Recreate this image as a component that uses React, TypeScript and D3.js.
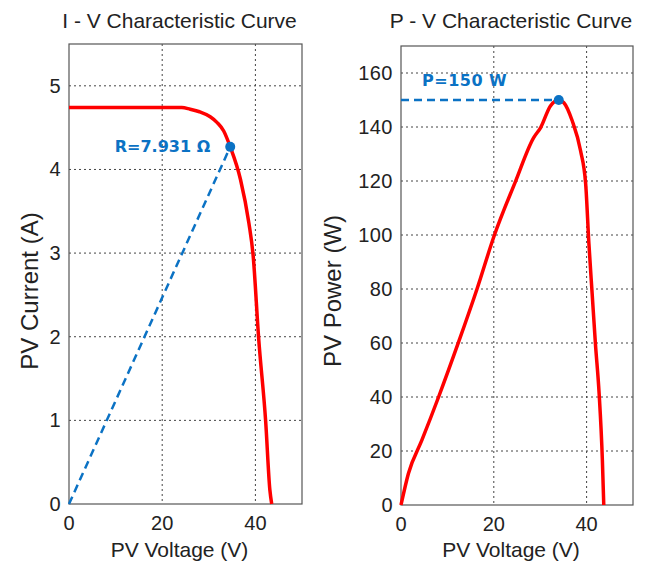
import * as d3 from "d3";

// ---- data ----
const ivVoltage = [0, 24.2, 26, 28, 30.3, 31.8, 33.2, 34.6, 36.8, 38.6, 39.5, 40.7, 42.2, 43.1, 43.5];
const ivCurrent = [4.74, 4.74, 4.72, 4.69, 4.63, 4.56, 4.46, 4.27, 3.88, 3.36, 2.98, 1.98, 0.99, 0.17, 0];

const pvVoltage = [0, 1.6, 4.5, 8.1, 12.4, 16.4, 20.1, 24.6, 28.6, 30.1, 32.2, 34, 35.1, 36.9, 38.7, 39.8, 40.5, 41.2, 41.9, 42.7, 43.4, 43.7];
const pvPower = [0, 11.7, 24, 40, 60.3, 80.1, 99.8, 119.5, 136.1, 139.8, 147.8, 150, 149, 142.3, 131.2, 118.9, 96.7, 78.2, 59.8, 41.3, 16.6, 0];

const xTicks = [0, 20, 40];
const iTicks = [0, 1, 2, 3, 4, 5];
const pTicks = [0, 20, 40, 60, 80, 100, 120, 140, 160];

const mppIV = { v: 34.6, i: 4.27 };
const mppPV = { v: 34, p: 150 };

const RED = "#ff0000";
const BLUE = "#0b72c4";
const FONT = "Liberation Sans, Arial, sans-serif";

type PanelProps = {
  x0: number;
  x1: number;
  y0: number;
  y1: number;
  yMax: number;
  yTicks: number[];
  xs: number[];
  ys: number[];
  title: string;
  yLabel: string;
  yLabelX: number;
  children?: (x: d3.ScaleLinear<number, number>, y: d3.ScaleLinear<number, number>) => any;
};

function Panel({ x0, x1, y0, y1, yMax, yTicks, xs, ys, title, yLabel, yLabelX, children }: PanelProps) {
  const x = d3.scaleLinear().domain([0, 50]).range([x0, x1]);
  const y = d3.scaleLinear().domain([0, yMax]).range([y1, y0]);
  const line = d3
    .line<number>()
    .x((d) => x(d))
    .y((_, k) => y(ys[k]))
    .curve(d3.curveMonotoneX);
  const cx = (x0 + x1) / 2 - 6;

  return (
    <g>
      {/* grid */}
      {xTicks.filter((t) => t > 0).map((t) => (
        <line key={"gx" + t} x1={x(t)} x2={x(t)} y1={y0} y2={y1} stroke="#444" strokeWidth={1} strokeDasharray="2,3" />
      ))}
      {yTicks.filter((t) => t > 0).map((t) => (
        <line key={"gy" + t} x1={x0} x2={x1} y1={y(t)} y2={y(t)} stroke="#444" strokeWidth={1} strokeDasharray="2,3" />
      ))}
      <rect x={x0} y={y0} width={x1 - x0} height={y1 - y0} fill="none" stroke="#555" strokeWidth={1.2} />

      {/* tick labels */}
      {xTicks.map((t) => (
        <text key={"tx" + t} x={x(t)} y={y1 + 26} textAnchor="middle" fontSize={20} fontFamily={FONT} fill="#222">
          {t}
        </text>
      ))}
      {yTicks.map((t) => (
        <text key={"ty" + t} x={x0 - 8} y={y(t) + 7} textAnchor="end" fontSize={20} fontFamily={FONT} fill="#222" letterSpacing={0.5}>
          {t}
        </text>
      ))}

      {/* titles */}
      <text x={cx} y={28} textAnchor="middle" fontSize={21} fontFamily={FONT} fill="#222">
        {title}
      </text>
      <text x={cx} y={557} textAnchor="middle" fontSize={21} fontFamily={FONT} fill="#222">
        PV Voltage (V)
      </text>
      <text
        transform={`translate(${yLabelX},291) rotate(-90)`}
        textAnchor="middle"
        fontSize={24}
        fontFamily={FONT}
        fill="#222"
      >
        {yLabel}
      </text>

      {/* curve */}
      <path d={line(xs) ?? ""} fill="none" stroke={RED} strokeWidth={3.5} strokeLinejoin="round" />
      {children && children(x, y)}
    </g>
  );
}

export default function App() {
  return (
    <svg width={649} height={566} style={{ position: "absolute", left: 0, top: 0, background: "#fff" }}>
      <Panel
        x0={69}
        x1={302}
        y0={44}
        y1={504}
        yMax={5.5}
        yTicks={iTicks}
        xs={ivVoltage}
        ys={ivCurrent}
        title="I - V Characteristic Curve"
        yLabel="PV Current (A)"
        yLabelX={38}
      >
        {(x, y) => (
          <g>
            <line x1={x(0)} y1={y(0)} x2={x(mppIV.v)} y2={y(mppIV.i)} stroke={BLUE} strokeWidth={2.5} strokeDasharray="8,5" />
            <circle cx={x(mppIV.v)} cy={y(mppIV.i)} r={5} fill={BLUE} />
            <text
              x={x(mppIV.v) - 20}
              y={y(mppIV.i) + 5}
              textAnchor="end"
              fontSize={16}
              fontWeight="bold"
              fontFamily="DejaVu Sans, Verdana, sans-serif"
              fill={BLUE}
            >
              {"R=7.931 \u03A9"}
            </text>
          </g>
        )}
      </Panel>
      <Panel
        x0={401}
        x1={633}
        y0={46}
        y1={505}
        yMax={170}
        yTicks={pTicks}
        xs={pvVoltage}
        ys={pvPower}
        title="P - V Characteristic Curve"
        yLabel="PV Power (W)"
        yLabelX={341}
      >
        {(x, y) => (
          <g>
            <line x1={x(0)} y1={y(mppPV.p)} x2={x(mppPV.v)} y2={y(mppPV.p)} stroke={BLUE} strokeWidth={2.5} strokeDasharray="8,5" />
            <circle cx={x(mppPV.v)} cy={y(mppPV.p)} r={5} fill={BLUE} />
            <text
              x={x(0) + 21}
              y={y(mppPV.p) - 14}
              fontSize={16}
              fontWeight="bold"
              fontFamily="DejaVu Sans, Verdana, sans-serif"
              fill={BLUE}
              letterSpacing={0.5}
            >
              P=150 W
            </text>
          </g>
        )}
      </Panel>
    </svg>
  );
}
